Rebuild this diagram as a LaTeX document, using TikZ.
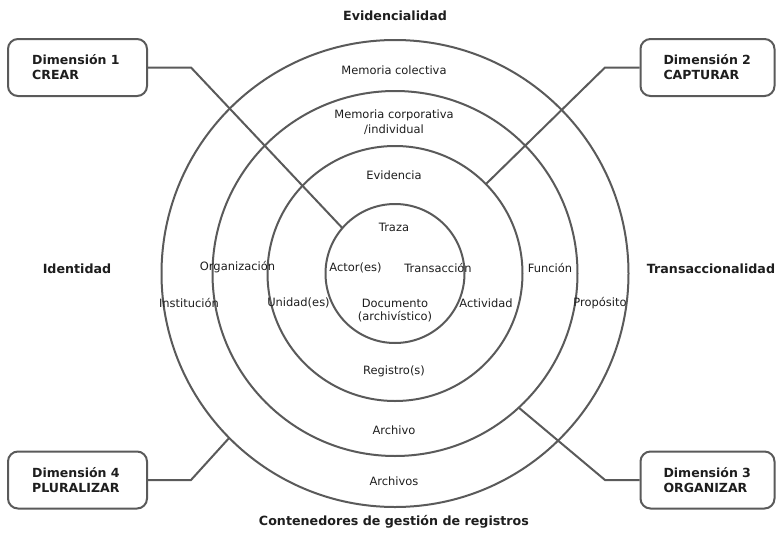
\documentclass[tikz,border=0pt]{standalone}
\usepackage{fontspec}
\setmainfont{DejaVu Sans}
\newfontfamily\titlefont{Liberation Serif}
\usetikzlibrary{calc}
\definecolor{linegray}{HTML}{5A5A5A}
\definecolor{txt}{HTML}{1E1E1E}
\begin{document}
\begin{tikzpicture}[x=0.75pt,y=-0.75pt,
  ring/.style={draw=linegray,line width=1.5pt},
  conn/.style={draw=linegray,line width=1.5pt},
  dimbox/.style={draw=linegray,line width=1.5pt,rounded corners=7.5pt,minimum height=42.75pt,
    inner xsep=0pt,align=left,font=\bfseries\fontsize{9.4}{11.25}\selectfont,text=txt},
  lbl/.style={font=\fontsize{8.6}{10.5}\selectfont,text=txt,inner sep=0pt,align=center},
  axis/.style={font=\bfseries\fontsize{9.5}{10.5}\selectfont,text=txt,inner sep=0pt}]
\useasboundingbox (0,0) rectangle (776,536);
\fill[white] (0,0) rectangle (776,536);
% cropped title fragment
\node[font=\titlefont\bfseries\fontsize{20}{20}\selectfont,anchor=base,inner sep=0pt,text=txt] (titleg) at (174,-6) {g};
% rings
\coordinate (O) at (395,273.5);
\draw[ring] (O) circle[radius=233.5];
\draw[ring] (O) circle[radius=182.5];
\draw[ring] (O) circle[radius=127.5];
\draw[ring] (O) circle[radius=69.5];
% boxes
\node[dimbox,minimum width=104.25pt,text width=68pt] (box1) at (77.5,67.5) {Dimensión 1\\CREAR};
\node[dimbox,minimum width=100.5pt,text width=66pt] (box2) at (707.5,67.5) {Dimensión 2\\CAPTURAR};
\node[dimbox,minimum width=100.5pt,text width=66pt] (box3) at (707.5,480) {Dimensión 3\\ORGANIZAR};
\node[dimbox,minimum width=104.25pt,text width=68pt] (box4) at (77.5,480) {Dimensión 4\\PLURALIZAR};
% connector end points on the rings
\coordinate (b1) at (191,67.5);
\coordinate (e1) at (342.4,228.1);
\coordinate (b2) at (605,67.5);
\coordinate (e2) at (485.9,184.1);
\coordinate (b3) at (605,480);
\coordinate (e3) at (518.7,407.6);
\coordinate (b4) at (191,480);
\coordinate (e4) at (229.1,438);
\draw[conn] (box1.east) -- (b1) -- (e1);
\draw[conn] (box2.west) -- (b2) -- (e2);
\draw[conn] (box3.west) -- (b3) -- (e3);
\draw[conn] (box4.east) -- (b4) -- (e4);
% axis labels
\node[axis] (evid) at (395,16) {Evidencialidad};
\node[axis] (ident) at (77,269) {Identidad};
\node[axis] (trans) at (711,269) {Transaccionalidad};
\node[axis] (cont) at (394,522) {Contenedores de gestión de registros};
% ring labels
\node[lbl] (memcol) at (394,70) {Memoria colectiva};
\node[lbl,font=\fontsize{8.6}{11.25}\selectfont] (memcorp) at (394,122.5) {Memoria corporativa\\/individual};
\node[lbl] (evidencia) at (394,175) {Evidencia};
\node[lbl] (traza) at (394,227) {Traza};
\node[lbl] (actor) at (355.5,268) {Actor(es)};
\node[lbl] (transac) at (438,268) {Transacción};
\node[lbl,font=\fontsize{8.6}{9.75}\selectfont] (doc) at (395,310.5) {Documento\\(archivístico)};
\node[lbl] (unidad) at (298.5,303) {Unidad(es)};
\node[lbl] (activ) at (486,303) {Actividad};
\node[lbl] (registro) at (394,371) {Registro(s)};
\node[lbl] (organiz) at (237.5,267) {Organización};
\node[lbl] (instit) at (189,303) {Institución};
\node[lbl] (funcion) at (550,268) {Función};
\node[lbl] (proposito) at (600,303) {Propósito};
\node[lbl] (archivo) at (394,430) {Archivo};
\node[lbl] (archivos) at (394,481) {Archivos};
\end{tikzpicture}
\end{document}
